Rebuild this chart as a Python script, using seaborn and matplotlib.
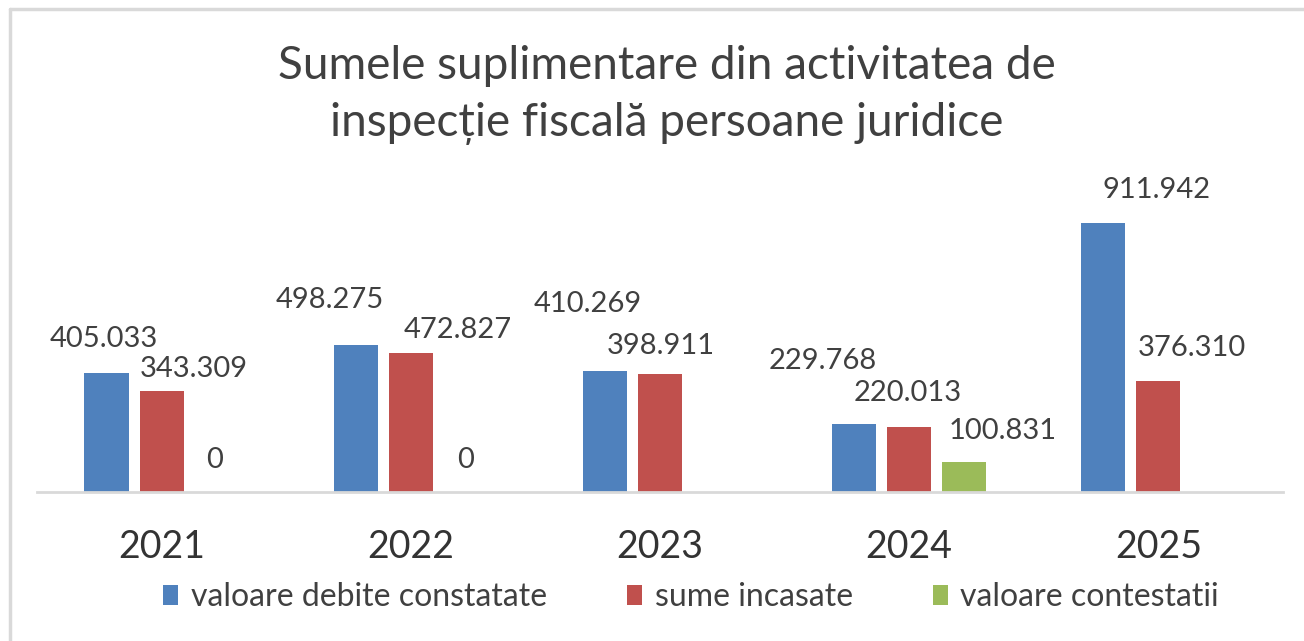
import numpy as np
import pandas as pd
import matplotlib
matplotlib.use("Agg")
import matplotlib.pyplot as plt
import seaborn as sns
from matplotlib.patches import Patch
from matplotlib.lines import Line2D

# ============================================================
# DATA
# ============================================================

YEARS = ["2021", "2022", "2023", "2024", "2025"]
SERIES = ["valoare debite constatate", "sume incasate", "valoare contestatii"]

debite = [405033, 498275, 410269, 229768, 911942]
incasate = [343309, 472827, 398911, 220013, 376310]
contestatii = [0, 0, None, 100831, None]

TITLE = "Sumele suplimentare din activitatea de\ninspecție fiscală persoane juridice"

COLORS = ["#4F81BD", "#C0504D", "#9BBB59"]

# label offsets (pixels) relative to each bar's top centre
LABEL_OFFSETS = {
    ("2021", 0): (-3, 34), ("2021", 1): (32, 22), ("2021", 2): (-2, 32),
    ("2022", 0): (-26, 45), ("2022", 1): (47, 23), ("2022", 2): (0, 32),
    ("2023", 0): (-17, 67), ("2023", 1): (1, 28),
    ("2024", 0): (-31, 63), ("2024", 1): (-2, 34), ("2024", 2): (38, 31),
    ("2025", 0): (53, 33), ("2025", 1): (33, 33),
}

rows = []
for name, vals in zip(SERIES, [debite, incasate, contestatii]):
    for yr, v in zip(YEARS, vals):
        if v is not None:
            rows.append({"year": yr, "series": name, "value": v})
df = pd.DataFrame(rows)

# ============================================================
# PLOT
# ============================================================

sns.set_theme(style="white")
plt.rcParams["font.family"] = ["Lato", "DejaVu Sans"]
TXT = "#404040"

W, H = 1304, 641
fig = plt.figure(figsize=(W / 100, H / 100), dpi=100)
ax = fig.add_axes([37 / W, (H - 492) / H, (1283 - 37) / W, 322 / H])

sns.barplot(
    data=df, x="year", y="value", hue="series",
    order=YEARS, hue_order=SERIES, palette=COLORS,
    width=0.663, gap=0.2, saturation=1, ax=ax, legend=False,
    edgecolor="none", linewidth=0,
)

ax.set_xlim(-0.5, 4.5)
ax.set_ylim(0, 1092000)
ax.set_xlabel("")
ax.set_ylabel("")
ax.set_yticks([])
for s in ["top", "right", "left"]:
    ax.spines[s].set_visible(False)
ax.spines["bottom"].set_color("#d9d9d9")
ax.spines["bottom"].set_linewidth(2)
ax.tick_params(axis="x", length=0, pad=27, labelsize=27, labelcolor="#333333")

# data labels
for si, cont in enumerate(ax.containers):
    for bar in cont:
        h = bar.get_height()
        if np.isnan(h):
            continue
        xc = bar.get_x() + bar.get_width() / 2
        yr = YEARS[int(round(xc))]
        dx, dy = LABEL_OFFSETS.get((yr, si), (0, 30))
        ax.annotate(
            f"{int(h):,}".replace(",", "."), (xc, h),
            xytext=(dx, dy), textcoords="offset pixels",
            ha="center", va="center", fontsize=21, color=TXT,
        )

fig.text(667 / W, 1 - 95 / H, TITLE, ha="center", va="center",
         fontsize=33, color=TXT, linespacing=1.42)

handles = [Patch(facecolor=c, edgecolor="none") for c in COLORS]
fig.legend(
    handles, SERIES, loc="center", bbox_to_anchor=(691 / W, 1 - 597 / H),
    ncol=3, frameon=False, fontsize=23, labelcolor=TXT,
    handlelength=0.47, handleheight=0.6, handletextpad=0.4, columnspacing=2.5,
)

# outer frame (top and left edges visible)
fig.add_artist(Line2D([10 / W, 10 / W], [0, 1 - 9 / H], transform=fig.transFigure,
                      color="#d9d9d9", linewidth=2.5))
fig.add_artist(Line2D([10 / W, 1], [1 - 9 / H, 1 - 9 / H], transform=fig.transFigure,
                      color="#d9d9d9", linewidth=2.5))

fig.savefig("out.png", dpi=100, facecolor="white")
